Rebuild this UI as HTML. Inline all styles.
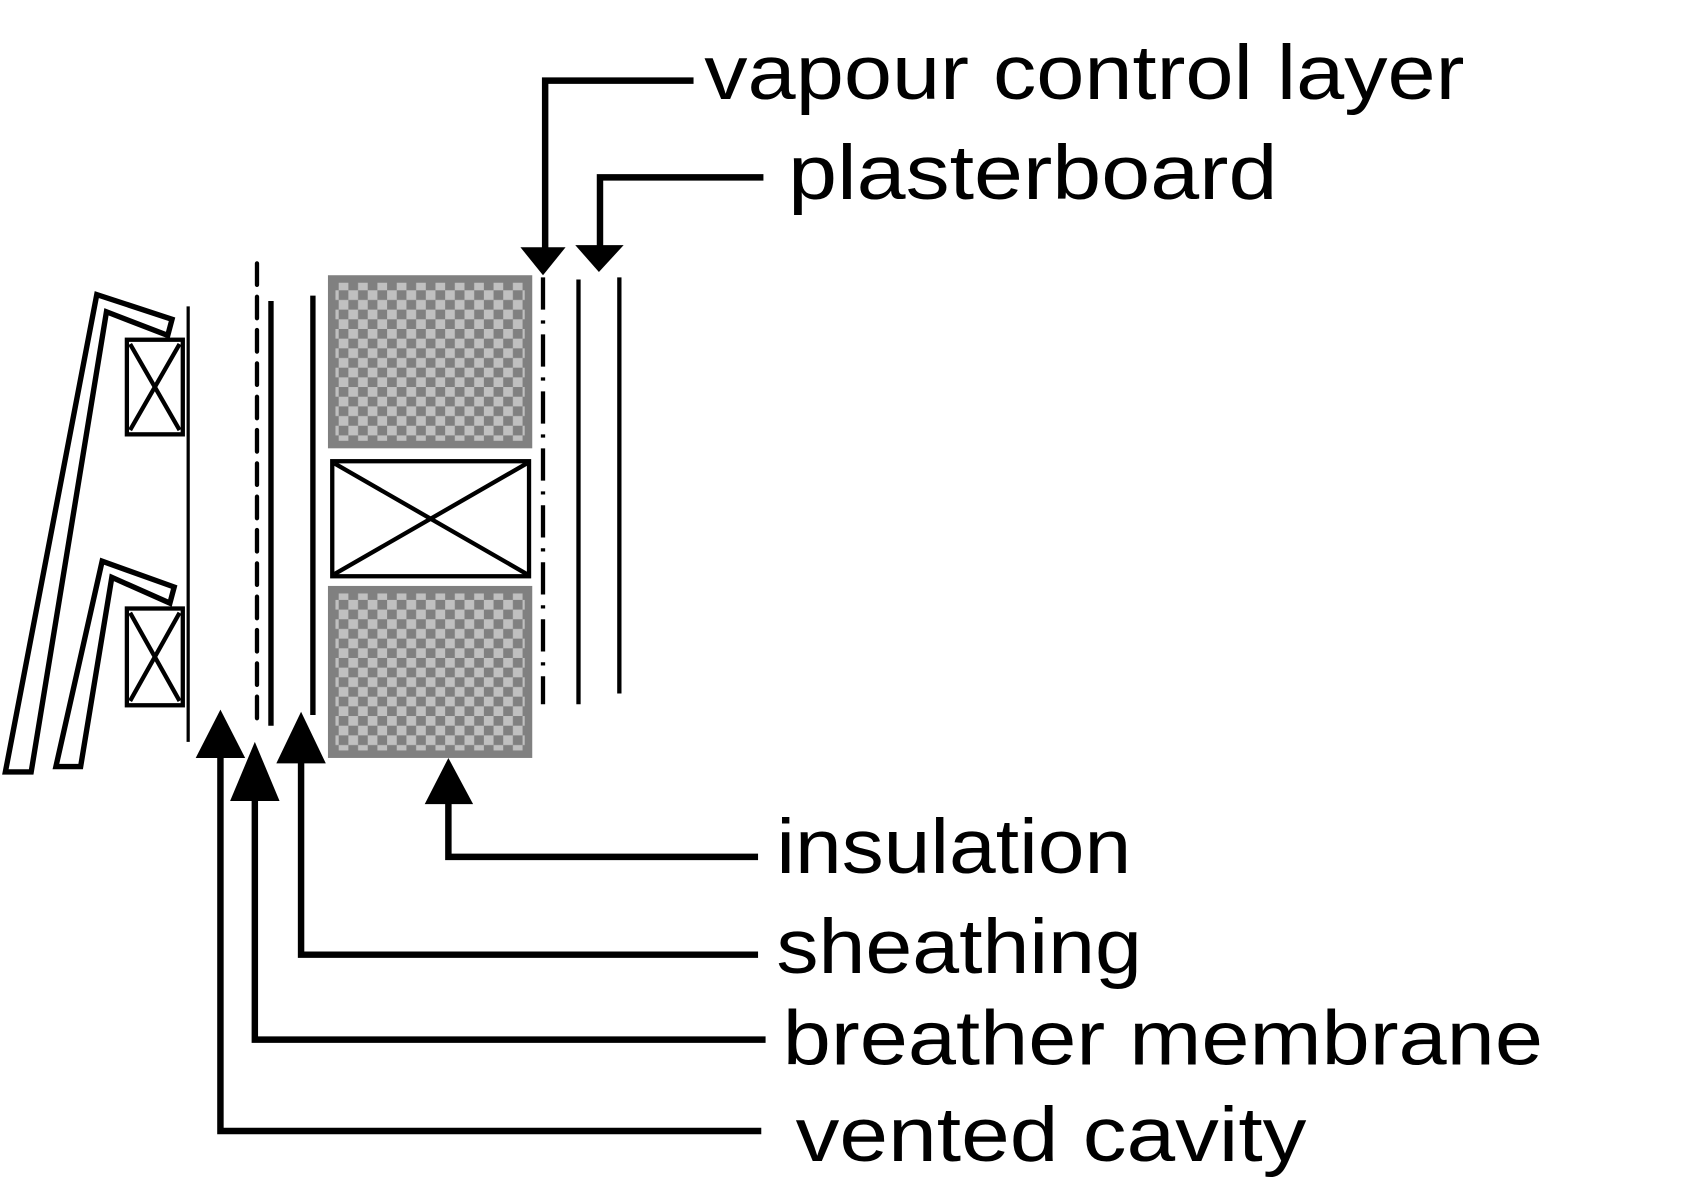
<!DOCTYPE html>
<html><head><meta charset="utf-8"><style>
html,body{margin:0;padding:0;background:#fff;}
svg{display:block;}
text{font-family:"Liberation Sans",sans-serif;font-size:72px;fill:#000;}
</style></head><body>
<svg width="1686" height="1188" viewBox="0 0 1568 1105" preserveAspectRatio="none" xmlns="http://www.w3.org/2000/svg">
<defs>
<pattern id="chk" width="18" height="18" patternUnits="userSpaceOnUse">
<rect width="18" height="18" fill="#808080"/>
<rect width="9" height="9" fill="#c0c0c0"/>
<rect x="9" y="9" width="9" height="9" fill="#c0c0c0"/>
</pattern>
</defs>
<rect width="1568" height="1105" fill="#fff"/>

<g fill="#fff" stroke="#000" stroke-width="5" stroke-linejoin="miter">
<polygon points="5,718 90,274 160,297 156,312 99,290 29,718"/>
<polygon points="52,713 95,522 162,546 158,561 104,537 75,713"/>
</g>
<g fill="none" stroke="#000" stroke-width="4">
<rect x="118" y="316" width="52" height="88"/>
<path d="M121,320 L167,400 M167,320 L121,400"/>
<rect x="118" y="566" width="52" height="90"/>
<path d="M121,570 L167,652 M167,570 L121,652"/>
</g>
<line x1="175" y1="285" x2="175" y2="690" stroke="#000" stroke-width="3"/>

<line x1="239" y1="245" x2="239" y2="675" stroke="#000" stroke-width="4" stroke-dasharray="20,11" stroke-linecap="round"/>
<line x1="252" y1="280" x2="252" y2="675" stroke="#000" stroke-width="5"/>
<line x1="291" y1="275" x2="291" y2="665" stroke="#000" stroke-width="5"/>

<g>
<rect x="305" y="256" width="190" height="161" fill="#808080"/>
<rect x="312" y="263" width="176" height="147" fill="url(#chk)"/>
</g>
<g fill="none" stroke="#000" stroke-width="4">
<rect x="309" y="429" width="183" height="107"/>
<path d="M311,431 L490,534 M490,431 L311,534"/>
</g>
<g>
<rect x="305" y="545" width="190" height="160" fill="#808080"/>
<rect x="312" y="552" width="176" height="146" fill="url(#chk)"/>
</g>

<line x1="505" y1="258" x2="505" y2="655" stroke="#000" stroke-width="4" stroke-dasharray="30,10,3,10"/>
<line x1="538" y1="260" x2="538" y2="655" stroke="#000" stroke-width="4"/>
<line x1="576" y1="258" x2="576" y2="645" stroke="#000" stroke-width="4"/>

<g stroke="#000" stroke-width="6" fill="none">
<polyline points="645,75 507,75 507,232"/>
<polyline points="710,165 558,165 558,232"/>
<polyline points="705,797 417,797 417,740"/>
<polyline points="705,888 280,888 280,705"/>
<polyline points="712,967 237,967 237,740"/>
<polyline points="708,1052 205,1052 205,700"/>
</g>
<g fill="#000">
<polygon points="484,230 526,230 505,256"/>
<polygon points="535,228 580,228 557,253"/>
<polygon points="395,748 440,748 417,705"/>
<polygon points="257,710 303,710 280,662"/>
<polygon points="214,745 260,745 237,690"/>
<polygon points="182,705 228,705 205,660"/>
</g>

<text x="655" y="92" textLength="707" lengthAdjust="spacingAndGlyphs">vapour control layer</text>
<text x="733" y="185" textLength="455" lengthAdjust="spacingAndGlyphs">plasterboard</text>
<text x="722" y="812" textLength="330" lengthAdjust="spacingAndGlyphs">insulation</text>
<text x="722" y="905" textLength="340" lengthAdjust="spacingAndGlyphs">sheathing</text>
<text x="728" y="990" textLength="707" lengthAdjust="spacingAndGlyphs">breather membrane</text>
<text x="740" y="1080" textLength="475" lengthAdjust="spacingAndGlyphs">vented cavity</text>
</svg>
</body></html>
